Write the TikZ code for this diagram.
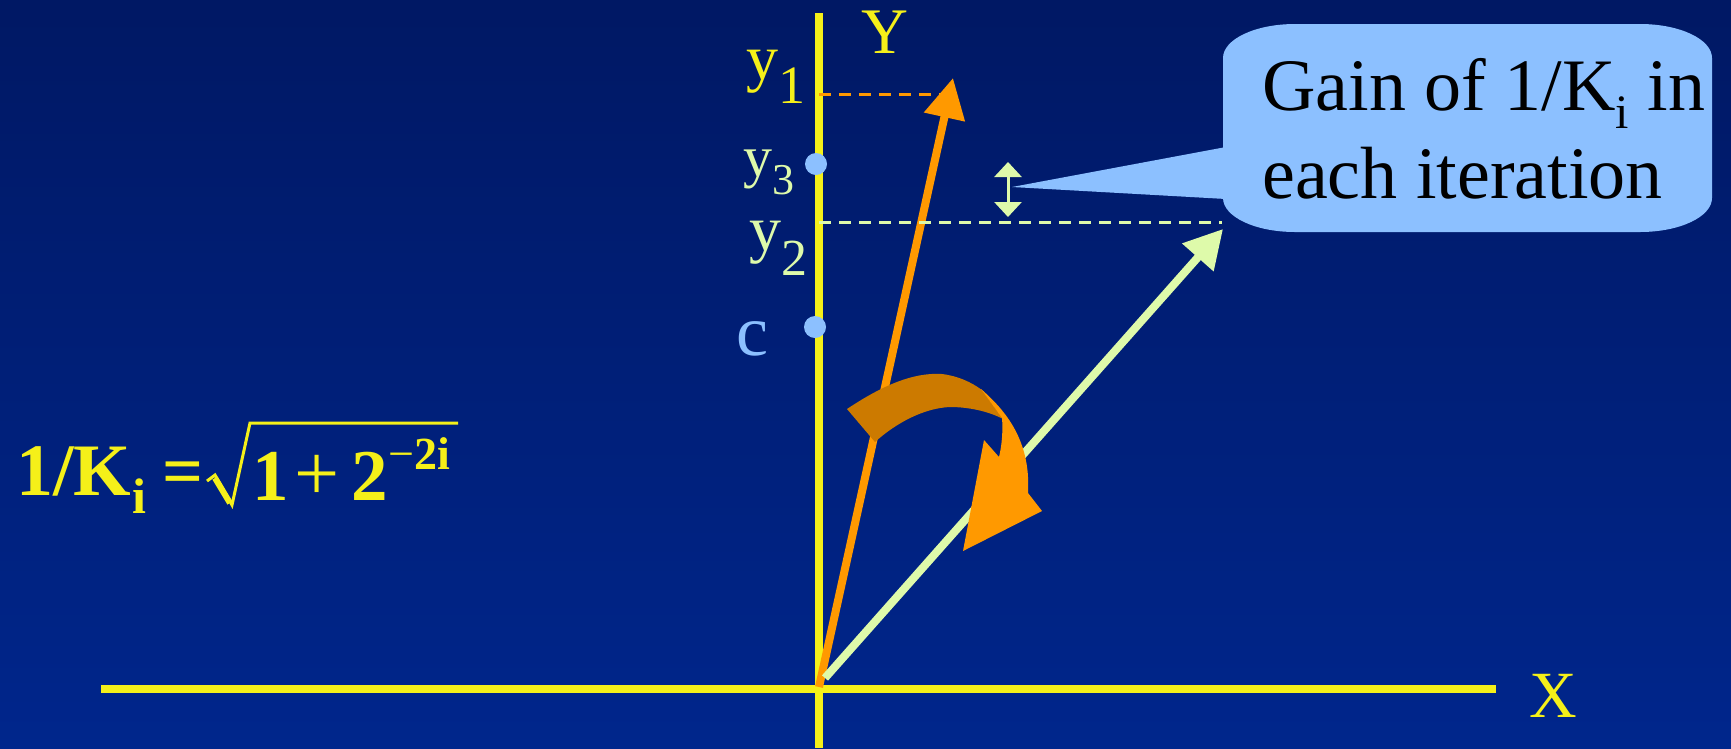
\documentclass[tikz,border=0pt]{standalone}
\usepackage{fontspec}
\setmainfont{Liberation Serif}
\usetikzlibrary{arrows.meta}
\definecolor{bgtop}{RGB}{0,24,100}
\definecolor{bgbot}{RGB}{0,38,140}
\definecolor{axisyellow}{RGB}{245,240,25}
\definecolor{orng}{RGB}{255,153,0}
\definecolor{dorng}{RGB}{204,122,0}
\definecolor{lgreen}{RGB}{222,250,170}
\definecolor{lblue}{RGB}{140,192,255}
\newcommand\myfs[1]{\fontsize{#1}{#1}\selectfont}
\begin{document}
\begin{tikzpicture}[x=1pt,y=-1pt,
  axisline/.style={axisyellow, line width=8pt},
  vecarrow/.style={line width=8pt},
  guide/.style={line width=3pt, dash pattern=on 12pt off 8pt},
  lbl/.style={inner sep=0pt, anchor=base west},
  ptdot/.style={circle, fill=lblue, inner sep=0pt, minimum size=22pt}]
\useasboundingbox (0,0) rectangle (1731,748);
\shade[top color=bgtop, bottom color=bgbot] (0,0) rectangle (1731,748);

% axes
\coordinate (ytop) at (819,13);
\coordinate (ybot) at (819,748);
\coordinate (xl) at (101,689);
\coordinate (xr) at (1496,689);
\draw[axisline] (ytop) -- (ybot);
\draw[axisline] (xl) -- (xr);

% points on Y
\node[ptdot] (y3dot) at (816,164) {};
\node[ptdot] (cdot) at (815,327) {};

% vectors
\coordinate (O) at (819,687);
\coordinate (t1) at (953,78);
\coordinate (g0) at (825,678);
\coordinate (t2) at (1223,229);
\draw[vecarrow, orng, -{Triangle[length=40pt,width=40pt]}] (O) -- (t1);
\draw[vecarrow, lgreen, -{Triangle[length=38pt,width=40pt]}] (g0) -- (t2);

% dashed guides
\coordinate (d1a) at (819,94);
\coordinate (d1b) at (940,94);
\coordinate (d2a) at (819,222);
\coordinate (d2b) at (1222,222);
\draw[guide, orng] (d1a) -- (d1b);
\draw[guide, lgreen] (d2a) -- (d2b);

% double arrow
\coordinate (da1) at (1008,162);
\coordinate (da2) at (1008,217);
\draw[lgreen, line width=3pt, {Triangle[length=15pt,width=27pt]}-{Triangle[length=15pt,width=27pt]}] (da1) -- (da2);

% curved rotation arrow
\fill[dorng] (847,409) .. controls (880,387) and (912,372) .. (942,374)
  .. controls (958,376) and (971,382) .. (982,390) -- (1003,419)
  .. controls (988,411) and (968,407) .. (950,407)
  .. controls (925,408) and (897,422) .. (875,442) -- cycle;
\fill[orng] (981,389) .. controls (1005,410) and (1031,440) .. (1028,493)
  -- (1042,511) -- (963,551) -- (984,440) -- (999,457)
  .. controls (1002,445) and (1003,430) .. (1002,418) -- cycle;

% callout
\fill[lblue] (1012,187) -- (1226,147) -- (1226,199) -- cycle;
\fill[lblue] (1295,24) -- (1640,24) arc[start angle=-90,end angle=0,x radius=72,y radius=34]
  -- (1712,198) arc[start angle=0,end angle=90,x radius=72,y radius=34]
  -- (1295,232) arc[start angle=90,end angle=180,x radius=72,y radius=34]
  -- (1223,58) arc[start angle=180,end angle=270,x radius=72,y radius=34] -- cycle;
\node[lbl, text=black] (gain1) at (1262,110) {\myfs{74}Gain of 1/K\raisebox{-18pt}{\myfs{48}i} in};
\node[lbl, text=black] (gain2) at (1262,198) {\myfs{74}each iteration};

% axis labels
\node[lbl, text=axisyellow] (ylab) at (861,53) {\myfs{65}Y};
\node[lbl, text=axisyellow] (xlab) at (1529,717) {\myfs{66}X};
\node[lbl, text=axisyellow] (y1lab) at (746,79) {\myfs{64}y\raisebox{-24pt}{\myfs{54}1}};
\node[lbl, text=lgreen] (y3lab) at (743,176) {\myfs{58}y\raisebox{-18pt}{\myfs{44}3}};
\node[lbl, text=lgreen] (y2lab) at (749,250) {\myfs{64}y\raisebox{-25pt}{\myfs{52}2}};
\node[lbl, text=lblue] (clab) at (736,355) {\myfs{72}c};

% formula
\node[lbl, text=axisyellow] (fk) at (16,495) {\myfs{74}\bfseries 1/K};
\node[lbl, text=axisyellow] (fi) at (132,513) {\myfs{50}\bfseries i};
\node[lbl, text=axisyellow] (feq) at (162,495) {\myfs{72}\bfseries =};
\draw[axisyellow, line width=3pt, line join=miter] (207,481) -- (215,475) -- (232,505) -- (250,423) -- (458,423);
\draw[axisyellow, line width=6pt] (215,478) -- (230,503);
\node[lbl, text=axisyellow] (fone) at (252,500) {\myfs{73}\bfseries 1};
\node[lbl, text=axisyellow] (fplus) at (294,500) {\myfs{80}+};
\node[lbl, text=axisyellow] (ftwo) at (351,500) {\myfs{73}\bfseries 2};
\node[lbl, text=axisyellow] (fexp) at (388,469) {\myfs{46}−\textbf{2i}};
\end{tikzpicture}
\end{document}
